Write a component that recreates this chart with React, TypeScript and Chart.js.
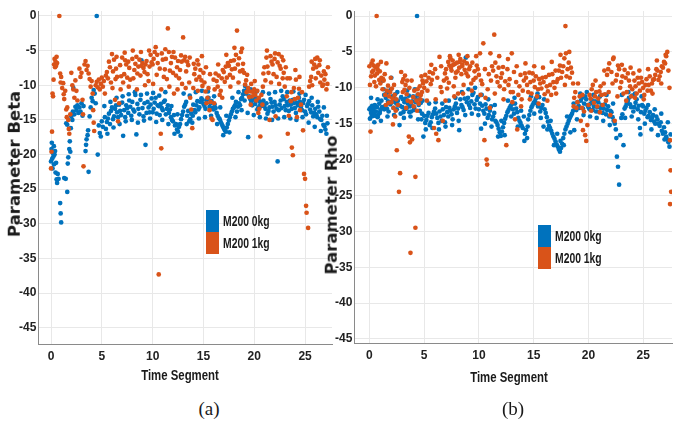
import React, { useEffect, useRef } from "react";
import { Chart, registerables } from "chart.js";

Chart.register(...registerables);

const X_TICKS = [0, 5, 10, 15, 20, 25];
const Y_TICKS = [0, -5, -10, -15, -20, -25, -30, -35, -40, -45];
const SERIES_LABELS = ["M200 0kg", "M200 1kg"];
const PANEL_CAPTIONS = ["(a)", "(b)"];
const Y_TITLES = ["Parameter Beta", "Parameter Rho"];
const X_TITLE = "Time Segment";
const BLUE = "#0072BD";
const ORANGE = "#D95319";

// Panel (a): Parameter Beta, M200 0kg
const betaBlue: number[][] = [
  [0.0,-21.0],[0.05,-19.2],[0.08,-18.3],[0.12,-20.6],[0.15,-22.0],[0.2,-19.8],[0.24,-20.3],[0.28,-18.8],[0.3,-21.4],[0.35,-20.0],
  [0.4,-19.5],[0.45,-22.6],[0.5,-21.2],[0.55,-23.6],[0.6,-24.1],[0.66,-22.8],[0.75,-23.5],[0.9,-27.0],[0.95,-28.5],[1.0,-29.8],
  [1.3,-23.4],[1.45,-23.5],[1.6,-25.4],[1.65,-21.3],[1.7,-20.4],[1.8,-19.2],[1.85,-18.1],[1.9,-19.6],[1.5,-15.5],[1.6,-15.7],
  [1.95,-16.2],[2.0,-14.5],[2.1,-15.0],[2.15,-13.8],[2.2,-10.4],[2.3,-14.2],[2.4,-13.1],[2.5,-13.6],[2.6,-12.9],[2.7,-14.0],
  [2.8,-13.2],[2.9,-13.8],[3.0,-12.6],[3.1,-14.4],[3.2,-13.0],[3.4,-19.5],[3.45,-18.6],[3.5,-17.8],[3.6,-17.2],[3.65,-16.5],
  [3.7,-22.5],[3.8,-14.5],[3.9,-13.2],[4.0,-11.8],[4.1,-12.3],[4.2,-10.7],[4.3,-11.2],[4.4,-12.6],[4.5,0.0],[4.6,-20.0],
  [4.7,-15.8],[4.8,-16.9],[4.9,-17.4],[5.0,-15.2],[5.1,-16.0],[5.3,-14.6],[5.5,-15.3],[5.7,-14.1],[5.9,-13.7],[6.1,-14.9],
  [6.3,-13.4],[6.5,-13.9],[6.7,-12.8],[6.9,-14.3],[7.1,-17.3],[7.2,-13.6],[7.4,-12.9],[7.6,-14.0],[7.8,-13.1],[8.0,-12.4],
  [8.2,-13.8],[8.4,-17.1],[8.5,-12.7],[8.7,-14.2],[8.9,-6.4],[9.0,-13.3],[9.2,-12.6],[9.3,-18.6],[9.4,-14.0],[9.6,-13.2],
  [9.8,-12.8],[10.0,-13.9],[10.2,-12.5],[10.4,-14.1],[10.6,-13.0],[10.8,-12.7],[11.0,-13.6],[11.2,-12.2],[11.4,-13.4],[11.6,-14.0],
  [11.8,-14.6],[12.0,-15.2],[12.2,-15.8],[12.4,-16.4],[12.5,-16.7],[12.7,-15.6],[12.9,-14.3],[13.1,-13.1],[13.3,-12.4],[13.5,-13.7],
  [13.7,-14.9],[13.9,-15.4],[14.1,-13.6],[14.3,-12.9],[14.5,-13.5],[14.7,-12.4],[14.9,-12.1],[15.1,-13.0],[15.3,-12.2],[15.5,-11.8],
  [15.7,-12.6],[15.9,-13.3],[16.1,-12.8],[16.3,-14.0],[16.5,-14.7],[16.7,-15.3],[16.9,-15.9],[17.1,-16.5],[17.3,-16.1],[17.5,-15.1],
  [17.7,-14.2],[17.9,-13.4],[18.1,-12.9],[18.3,-13.8],[18.5,-12.6],[18.7,-12.0],[18.9,-11.3],[19.1,-10.1],[19.3,-10.6],[19.4,-17.5],
  [19.5,-11.6],[19.7,-12.4],[19.9,-11.8],[20.1,-12.7],[20.3,-13.5],[20.5,-12.3],[20.7,-13.0],[20.9,-12.2],[21.1,-13.4],[21.3,-14.1],
  [21.5,-13.2],[21.7,-12.5],[21.9,-13.8],[22.1,-12.9],[22.3,-21.0],[22.4,-13.6],[22.6,-12.2],[22.8,-11.6],[23.0,-13.0],[23.2,-12.4],
  [23.4,-13.7],[23.6,-12.8],[23.8,-12.1],[24.0,-13.3],[24.2,-12.5],[24.4,-11.8],[24.6,-13.1],[24.8,-12.6],[25.0,-13.8],[25.2,-13.0],
  [25.4,-12.3],[25.6,-13.9],[25.8,-14.5],[26.0,-13.4],[26.2,-14.6],[26.4,-13.8],[26.6,-15.0],[26.8,-15.7],[27.0,-16.4],[27.1,-17.0],
  [5.4,-16.3],[5.6,-14.8],[5.8,-15.6],[6.0,-13.2],[6.2,-14.5],[6.4,-12.9],[6.6,-14.6],[6.8,-13.7],[7.0,-12.5],[7.3,-14.6],
  [7.5,-13.3],[7.7,-12.2],[7.9,-14.4],[8.1,-13.5],[8.3,-11.4],[8.6,-13.4],[8.8,-12.1],[9.1,-14.5],[9.5,-12.4],[9.7,-13.9],
  [9.9,-11.9],[10.1,-13.4],[10.3,-11.8],[10.5,-12.9],[10.7,-14.3],[10.9,-13.3],[11.1,-12.4],[11.3,-14.2],[11.5,-12.9],[11.7,-13.5],
  [11.9,-15.0],[12.1,-14.3],[12.3,-15.6],[12.6,-16.0],[12.8,-14.9],[13.0,-13.8],[13.2,-12.8],[13.4,-14.4],[13.6,-15.2],[13.8,-14.1],
  [14.0,-12.8],[14.2,-13.9],[14.4,-12.3],[14.6,-13.2],[14.8,-11.9],[15.0,-12.7],[15.2,-13.4],[15.4,-12.0],[15.6,-13.1],[15.8,-12.3],
  [16.0,-13.5],[16.2,-13.3],[16.4,-14.4],[16.6,-14.9],[16.8,-15.6],[17.0,-16.2],[17.2,-16.7],[17.4,-15.6],[17.6,-14.6],[17.8,-13.8],
  [18.0,-13.2],[18.2,-12.4],[18.4,-13.1],[18.6,-12.9],[18.8,-11.8],[19.0,-10.8],[19.2,-11.2],[19.6,-12.0],[19.8,-12.9],[20.0,-12.1],
  [20.2,-11.9],[20.4,-13.2],[20.6,-12.8],[20.8,-12.5],[21.0,-13.0],[21.2,-12.6],[21.4,-13.7],[21.6,-12.0],[21.8,-13.1],[22.0,-12.4],
  [22.2,-13.4],[22.5,-12.8],[22.7,-13.3],[22.9,-12.0],[23.1,-13.6],[23.3,-12.9],[23.5,-12.2],[23.7,-13.4],[23.9,-12.6],[24.1,-14.0],
  [24.3,-12.9],[24.5,-12.4],[24.7,-13.6],[24.9,-12.1],[25.1,-14.2],[25.3,-12.7],[25.5,-13.5],[25.7,-12.9],[25.9,-14.0],[26.1,-14.2],
  [26.3,-13.1],[26.5,-14.9],[26.7,-14.4],[26.9,-15.9],[27.2,-15.5],
  [5.25,-13.0],[5.55,-17.0],[5.85,-12.4],[6.15,-16.1],[6.45,-11.8],[6.75,-15.6],[7.05,-11.6],[7.35,-15.2],[7.65,-11.3],[7.95,-15.0],
  [8.25,-11.0],[8.55,-15.4],[8.85,-11.4],[9.15,-15.1],[9.45,-11.2],[9.75,-14.8],[10.05,-11.1],[10.35,-15.3],[10.65,-11.5],[10.95,-15.0],
  [11.25,-11.0],[11.55,-15.6],[11.85,-13.0],[12.15,-17.0],[12.45,-14.2],[12.75,-17.3],[13.05,-11.2],[13.35,-15.6],[13.65,-11.5],[13.95,-14.4],
  [14.25,-11.0],[14.55,-14.8],[14.85,-10.8],[15.15,-14.6],[15.45,-10.9],[15.75,-14.4],[16.05,-11.6],[16.35,-15.6],[16.65,-13.2],[16.95,-17.2],
  [17.25,-14.4],[17.55,-16.8],[17.85,-11.8],[18.15,-14.6],[18.45,-11.0],[18.75,-13.6],[19.05,-12.2],[19.35,-14.0],[19.65,-10.6],[19.95,-14.3],
  [20.25,-10.9],[20.55,-14.6],[20.85,-11.0],[21.15,-14.8],[21.45,-11.2],[21.75,-15.0],[22.05,-11.0],[22.35,-14.8],[22.65,-10.8],[22.95,-14.6],
  [23.25,-11.0],[23.55,-14.8],[23.85,-10.9],[24.15,-15.0],[24.45,-11.2],[24.75,-14.6],[25.05,-11.4],[25.35,-15.4],[25.65,-11.8],[25.95,-16.0],
  [26.25,-12.4],[26.55,-16.6],[26.85,-13.2],[27.15,-14.4]
];

// Panel (a): Parameter Beta, M200 1kg
const betaOrange: number[][] = [
  [0.0,-22.0],[0.05,-19.6],[0.1,-16.7],[0.15,-11.2],[0.2,-11.6],[0.25,-9.2],[0.3,-7.0],[0.35,-6.2],[0.4,-7.4],[0.45,-6.6],
  [0.5,-7.2],[0.55,-5.9],[0.6,-6.8],[0.82,0.0],[0.9,-8.3],[0.95,-9.6],[1.0,-8.8],[1.1,-10.4],[1.2,-9.7],[1.25,-11.3],
  [1.3,-12.0],[1.4,-10.8],[1.5,-13.5],[1.55,-14.6],[1.6,-13.2],[1.7,-15.0],[1.75,-16.3],[1.8,-17.0],[1.9,-14.2],[2.0,-8.2],
  [2.1,-10.0],[2.2,-10.6],[2.3,-11.8],[2.4,-9.3],[2.5,-10.8],[2.6,-12.2],[2.8,-7.6],[2.9,-8.8],[3.0,-8.2],[3.1,-12.1],
  [3.15,-14.2],[3.2,-21.7],[3.3,-7.0],[3.4,-6.5],[3.5,-7.8],[3.6,-7.2],[3.7,-8.3],[3.8,-9.1],[3.9,-10.2],[4.0,-9.4],
  [4.1,-11.2],[4.15,-13.6],[4.2,-15.4],[4.25,-16.6],[4.4,-10.0],[4.5,-9.5],[4.6,-10.3],[4.7,-9.2],[4.8,-10.6],[4.9,-9.8],
  [5.0,-8.9],[5.2,-9.4],[5.4,-8.6],[5.6,-9.0],[5.8,-7.4],[6.0,-5.5],[6.1,-8.0],[6.2,-6.3],[6.3,-12.1],[6.4,-7.6],
  [6.5,-8.8],[6.6,-15.2],[6.7,-12.6],[6.8,-7.1],[7.0,-6.0],[7.2,-8.4],[7.4,-7.0],[7.6,-6.6],[7.8,-9.2],[8.0,-6.2],
  [8.2,-7.8],[8.4,-5.9],[8.6,-7.3],[8.8,-8.6],[9.0,-6.8],[9.1,-7.5],[9.2,-8.1],[9.4,-6.5],[9.6,-9.4],[9.8,-5.6],
  [10.0,-7.0],[10.1,-6.2],[10.3,-4.5],[10.4,-8.5],[10.6,-37.3],[10.8,-17.0],[10.85,-19.1],[11.0,-6.3],[11.2,-7.7],[11.4,-9.1],
  [11.5,-1.8],[11.6,-5.2],[11.8,-6.8],[12.0,-8.2],[12.1,-11.2],[12.2,-6.0],[12.4,-7.4],[12.6,-9.0],[12.8,-5.7],[13.0,-3.1],
  [13.1,-6.4],[13.3,-8.0],[13.5,-7.1],[13.6,-9.6],[13.7,-11.8],[13.8,-13.5],[13.9,-16.2],[14.0,-10.4],[14.2,-7.6],[14.4,-6.4],
  [14.6,-8.8],[14.8,-9.3],[15.0,-8.2],[15.2,-10.9],[15.4,-11.8],[15.6,-13.6],[15.8,-14.8],[16.0,-9.2],[16.2,-8.3],[16.4,-10.2],
  [16.6,-11.4],[16.8,-9.0],[17.0,-8.1],[17.2,-7.3],[17.4,-6.8],[17.6,-8.5],[17.8,-7.7],[18.0,-6.4],[18.2,-5.6],[18.3,-2.1],
  [18.5,-6.1],[18.7,-5.2],[18.8,-4.7],[19.0,-8.2],[19.2,-9.3],[19.4,-10.4],[19.6,-10.9],[19.8,-11.6],[20.0,-10.6],[20.2,-12.2],
  [20.4,-14.0],[20.6,-17.4],[20.8,-12.8],[21.0,-7.4],[21.2,-6.0],[21.4,-8.2],[21.5,-15.0],[21.6,-5.8],[21.8,-7.0],[22.0,-6.2],
  [22.1,-14.5],[22.2,-8.8],[22.4,-5.5],[22.6,-7.6],[22.8,-9.0],[23.0,-10.2],[23.2,-11.6],[23.3,-17.0],[23.4,-14.4],[23.6,-12.3],
  [23.7,-19.0],[23.8,-20.1],[24.0,-12.0],[24.2,-14.6],[24.4,-10.5],[24.6,-12.8],[24.8,-16.5],[24.9,-22.8],[25.0,-23.5],[25.1,-27.4],
  [25.15,-28.4],[25.3,-30.6],[25.4,-10.2],[25.6,-8.8],[25.8,-7.6],[26.0,-6.2],[26.1,-7.4],[26.3,-8.2],[26.5,-9.6],[26.7,-10.1],
  [26.9,-9.2],[27.0,-8.4],[27.2,-9.8],
  [5.1,-10.2],[5.5,-8.1],[5.9,-9.6],[6.35,-9.1],[6.9,-8.7],[7.1,-9.6],[7.3,-6.4],[7.5,-8.9],[7.7,-7.5],[8.1,-9.0],
  [8.3,-6.9],[8.5,-8.3],[8.7,-6.3],[8.9,-7.2],[9.3,-7.0],[9.5,-8.4],[9.7,-7.3],[9.9,-6.7],[10.2,-5.2],[10.5,-6.8],
  [10.7,-7.6],[10.9,-5.4],[11.1,-8.8],[11.3,-6.2],[11.7,-7.9],[11.9,-5.9],[12.3,-8.6],[12.5,-6.5],[12.7,-7.8],[12.9,-9.8],
  [13.2,-5.9],[13.4,-6.6],[14.1,-8.4],[14.3,-9.2],[14.5,-7.0],[14.7,-7.8],[14.9,-10.1],[15.1,-9.6],[15.3,-12.6],[15.5,-10.4],
  [15.7,-12.4],[15.9,-15.0],[16.1,-10.6],[16.3,-9.4],[16.5,-8.6],[16.7,-10.8],[16.9,-7.8],[17.1,-9.5],[17.3,-8.9],[17.5,-7.2],
  [17.7,-6.5],[17.9,-8.9],[18.1,-7.6],[18.4,-7.0],[18.6,-8.0],[18.9,-6.9],[19.1,-9.9],[19.3,-8.5],[19.5,-11.7],[19.7,-9.8],
  [19.9,-11.0],[20.1,-11.4],[20.3,-10.8],[20.5,-13.4],[20.7,-11.4],[20.9,-8.3],[21.1,-9.3],[21.3,-7.3],[21.7,-6.6],[21.9,-8.4],
  [22.3,-6.7],[22.5,-7.2],[22.7,-5.9],[22.9,-8.2],[23.1,-7.4],[23.5,-9.0],[23.9,-10.4],[24.1,-9.2],[24.3,-11.8],[24.5,-13.6],
  [24.7,-11.0],[25.5,-9.4],[25.7,-10.0],[25.9,-7.0],[26.2,-6.0],[26.4,-7.1],[26.6,-8.6],[26.8,-9.9],[27.1,-10.6],
  [5.3,-11.2],[5.7,-6.6],[6.05,-10.4],[6.45,-5.9],[6.85,-10.6],[7.25,-5.3],[7.65,-10.2],[8.05,-5.0],[8.45,-10.6],[8.85,-5.2],
  [9.25,-10.0],[9.65,-5.0],[10.05,-9.8],[10.45,-5.6],[10.85,-10.6],[11.25,-4.8],[11.65,-10.2],[12.05,-5.2],[12.45,-10.6],[12.85,-6.6],
  [13.25,-10.4],[13.65,-6.0],[14.05,-6.9],[14.45,-10.8],[14.85,-5.8],[15.25,-7.4],[15.65,-8.4],[16.05,-12.6],[16.45,-7.0],[16.85,-11.8],
  [17.25,-5.6],[17.65,-10.2],[18.05,-4.6],[18.45,-9.6],[18.85,-7.8],[19.25,-11.0],[19.65,-12.8],[20.05,-9.4],[20.45,-11.8],[20.85,-10.2],
  [21.25,-5.0],[21.65,-9.6],[22.05,-5.4],[22.45,-9.8],[22.85,-6.4],[23.25,-9.0],[23.65,-11.0],[24.05,-7.8],[24.45,-8.8],[25.65,-6.6],
  [26.05,-9.0],[26.45,-6.4],[26.85,-8.0],[27.25,-7.4]
];

// Panel (b): Parameter Rho, M200 0kg
const rhoBlue: number[][] = [
  [0.0,-13.0],[0.05,-14.3],[0.1,-12.8],[0.15,-13.5],[0.2,-14.0],[0.25,-12.5],[0.3,-13.2],[0.35,-13.9],[0.4,-12.9],[0.45,-13.6],
  [0.5,-12.4],[0.6,-13.3],[0.7,-12.7],[0.8,-13.8],[0.9,-12.2],[1.0,-13.1],[1.1,-11.8],[1.2,-9.0],[1.3,-10.2],[1.4,-12.6],
  [1.5,-11.4],[1.6,-12.9],[1.7,-11.9],[1.8,-10.6],[1.9,-12.3],[2.0,-8.6],[2.1,-11.2],[2.2,-12.8],[2.3,-11.6],[2.4,-12.1],
  [2.5,-13.0],[2.6,-11.8],[2.75,-15.2],[2.8,-12.5],[2.9,-11.3],[3.0,-12.7],[3.1,-13.4],[3.2,-12.0],[3.3,-11.5],[3.4,-12.9],
  [3.5,-12.2],[3.6,-11.1],[3.7,-12.6],[3.8,-13.3],[3.9,-11.9],[4.0,-11.2],[4.1,-12.8],[4.2,-11.4],[4.35,0.0],[4.4,-11.0],
  [4.5,-12.4],[4.6,-13.2],[4.7,-12.1],[4.8,-13.6],[4.93,-16.8],[5.0,-13.9],[5.2,-14.5],[5.4,-13.5],[5.6,-14.8],[5.8,-13.7],
  [6.0,-12.9],[6.2,-14.2],[6.4,-13.3],[6.6,-14.6],[6.8,-13.8],[7.0,-12.7],[7.2,-14.0],[7.4,-13.2],[7.6,-14.4],[7.8,-12.6],
  [8.0,-13.5],[8.2,-15.9],[8.4,-12.4],[8.6,-13.1],[8.8,-5.8],[8.9,-12.0],[9.0,-11.4],[9.2,-12.8],[9.4,-11.0],[9.6,-12.3],
  [9.8,-11.7],[10.0,-13.0],[10.2,-15.7],[10.3,-12.5],[10.5,-13.6],[10.7,-12.9],[10.9,-13.8],[11.1,-12.6],[11.3,-14.0],[11.5,-14.6],
  [11.7,-15.2],[11.9,-16.2],[12.0,-16.7],[12.2,-15.5],[12.4,-14.3],[12.6,-13.4],[12.8,-12.8],[13.0,-12.3],[13.2,-13.6],[13.4,-12.9],
  [13.6,-14.2],[13.8,-14.9],[14.0,-15.6],[14.2,-16.4],[14.4,-17.0],[14.6,-13.8],[14.8,-12.7],[15.0,-12.1],[15.2,-11.5],[15.4,-12.6],
  [15.6,-13.3],[15.8,-12.4],[15.9,-15.4],[16.0,-13.0],[16.2,-14.1],[16.4,-15.3],[16.6,-16.0],[16.8,-16.8],[17.0,-17.5],[17.2,-18.2],
  [17.4,-18.9],[17.5,-18.4],[17.7,-17.0],[17.9,-15.8],[18.1,-15.0],[18.3,-14.2],[18.5,-13.6],[18.7,-15.9],[18.9,-13.1],[19.1,-12.5],
  [19.3,-11.8],[19.5,-12.9],[19.7,-11.2],[19.9,-12.4],[20.1,-13.0],[20.3,-11.7],[20.5,-12.6],[20.7,-13.3],[20.9,-12.0],[21.1,-12.8],
  [21.3,-13.5],[21.5,-12.3],[21.7,-13.1],[21.9,-14.0],[22.1,-13.4],[22.3,-14.6],[22.5,-15.8],[22.6,-19.6],[22.7,-21.0],[22.8,-23.5],
  [22.9,-16.6],[23.0,-14.2],[23.2,-18.0],[23.3,-12.9],[23.5,-12.2],[23.7,-11.4],[23.9,-12.7],[24.1,-13.3],[24.3,-12.1],[24.5,-13.0],
  [24.7,-15.6],[24.75,-16.5],[24.9,-12.4],[25.1,-13.6],[25.3,-12.8],[25.5,-13.9],[25.7,-14.5],[25.9,-13.8],[26.1,-15.0],[26.3,-14.4],
  [26.5,-15.3],[26.7,-16.0],[26.9,-15.5],[27.1,-16.8],[27.3,-17.6],[27.4,-18.2],[27.5,-16.5],
  [0.55,-13.9],[0.75,-14.1],[0.95,-13.5],[1.15,-12.7],[1.35,-13.0],[1.55,-10.8],[1.75,-13.3],[2.05,-12.0],[2.35,-10.9],[2.55,-12.3],
  [2.85,-13.6],[3.05,-11.6],[3.25,-13.0],[3.45,-11.8],[3.65,-13.4],[3.85,-12.4],[4.05,-13.1],[4.25,-12.0],[4.55,-11.6],[4.75,-14.4],
  [5.1,-14.9],[5.3,-13.9],[5.5,-15.2],[5.7,-14.1],[5.9,-13.3],[6.1,-13.6],[6.3,-14.9],[6.5,-14.0],[6.7,-13.0],[6.9,-14.8],
  [7.1,-13.4],[7.3,-12.8],[7.5,-13.7],[7.7,-13.0],[7.9,-12.2],[8.1,-12.9],[8.3,-11.6],[8.5,-12.7],[8.7,-11.5],[9.1,-12.4],
  [9.3,-11.9],[9.5,-10.7],[9.7,-12.9],[9.9,-11.3],[10.1,-12.2],[10.4,-13.2],[10.6,-12.3],[10.8,-14.2],[11.0,-13.2],[11.2,-14.4],
  [11.4,-13.5],[11.6,-14.8],[11.8,-15.7],[12.1,-16.1],[12.3,-14.9],[12.5,-13.9],[12.7,-13.1],[12.9,-12.5],[13.1,-13.0],[13.3,-12.2],
  [13.5,-13.4],[13.7,-14.6],[13.9,-15.3],[14.1,-14.0],[14.3,-15.9],[14.5,-14.4],[14.7,-13.2],[14.9,-12.4],[15.1,-11.9],[15.3,-12.2],
  [15.5,-11.3],[15.7,-12.8],[16.1,-13.5],[16.3,-14.7],[16.5,-15.6],[16.7,-16.4],[16.9,-17.1],[17.1,-17.9],[17.3,-18.6],[17.6,-17.8],
  [17.8,-16.4],[18.0,-15.4],[18.2,-14.6],[18.4,-13.9],[18.6,-13.2],[18.8,-12.9],[19.0,-12.0],[19.2,-12.8],[19.4,-11.4],[19.6,-12.2],
  [19.8,-11.6],[20.0,-12.7],[20.2,-12.2],[20.4,-13.1],[20.6,-11.9],[20.8,-12.7],[21.0,-13.4],[21.2,-12.4],[21.4,-12.9],[21.6,-13.7],
  [21.8,-12.6],[22.0,-13.2],[22.2,-14.1],[22.4,-15.0],[23.1,-13.7],[23.4,-12.6],[23.6,-11.8],[23.8,-12.3],[24.0,-11.1],[24.2,-12.7],
  [24.4,-11.6],[24.6,-12.5],[24.8,-13.4],[25.0,-12.6],[25.2,-13.2],[25.4,-14.1],[25.6,-13.4],[25.8,-14.2],[26.0,-14.7],[26.2,-14.0],
  [26.4,-15.0],[26.6,-14.8],[26.8,-16.4],[27.0,-16.2],[27.2,-17.2],
  [0.15,-11.4],[0.45,-14.8],[0.75,-11.6],[1.05,-14.6],[1.35,-11.0],[1.65,-14.0],[1.95,-10.2],[2.25,-13.8],[2.55,-10.6],[3.15,-14.2],
  [3.45,-10.4],[3.75,-14.0],[4.15,-10.2],[4.45,-14.4],[4.85,-11.8],[5.15,-15.8],[5.45,-12.2],[5.75,-15.6],[6.05,-12.0],[6.35,-15.8],
  [6.65,-12.2],[6.95,-15.4],[7.25,-11.8],[7.55,-15.2],[7.85,-11.4],[8.15,-14.6],[8.45,-10.6],[8.75,-13.8],[9.05,-10.2],[9.35,-13.6],
  [9.65,-10.0],[9.95,-13.8],[10.25,-11.0],[10.55,-15.0],[10.85,-11.6],[11.15,-15.4],[11.45,-12.4],[11.75,-16.8],[12.05,-14.6],[12.35,-16.6],
  [12.65,-11.8],[12.95,-14.0],[13.25,-11.4],[13.55,-15.4],[13.85,-13.2],[14.15,-17.4],[14.45,-15.4],[14.75,-11.2],[15.05,-13.6],[15.35,-10.8],
  [15.65,-14.2],[15.95,-11.6],[16.25,-15.8],[16.55,-14.6],[16.85,-18.0],[17.15,-16.4],[17.45,-17.4],[17.75,-18.0],[18.05,-14.0],[18.35,-16.2],
  [18.65,-12.2],[18.95,-14.4],[19.25,-10.8],[19.55,-13.8],[19.85,-10.6],[20.15,-14.0],[20.45,-11.0],[20.75,-14.2],[21.05,-11.2],[21.35,-14.6],
  [21.65,-11.0],[21.95,-15.2],[22.25,-12.2],[22.55,-17.0],[23.05,-11.0],[23.35,-14.2],[23.65,-10.6],[23.95,-14.0],[24.25,-10.8],[24.55,-14.4],
  [24.85,-11.2],[25.15,-15.0],[25.45,-12.4],[25.75,-15.8],[26.05,-13.0],[26.35,-16.6],[26.65,-13.6],[26.95,-17.2],[27.25,-14.8]
];

// Panel (b): Parameter Rho, M200 1kg
const rhoOrange: number[][] = [
  [0.0,-7.0],[0.05,-9.6],[0.1,-16.1],[0.15,-8.4],[0.2,-6.6],[0.3,-6.2],[0.35,-7.6],[0.4,-6.9],[0.5,-8.3],[0.55,-7.1],
  [0.66,0.0],[0.7,-8.0],[0.8,-6.8],[0.9,-8.9],[1.0,-9.4],[1.1,-8.6],[1.2,-10.2],[1.3,-9.0],[1.4,-8.1],[1.55,-6.6],
  [1.6,-10.4],[1.7,-9.7],[1.8,-11.2],[1.9,-10.6],[2.0,-12.0],[2.1,-11.5],[2.15,-15.1],[2.2,-12.8],[2.3,-11.0],[2.4,-13.2],
  [2.5,-18.7],[2.6,-12.4],[2.7,-24.5],[2.8,-21.9],[2.9,-7.8],[3.0,-9.2],[3.1,-8.8],[3.2,-10.3],[3.3,-9.6],[3.4,-10.9],
  [3.5,-11.8],[3.6,-16.8],[3.7,-17.6],[3.75,-33.0],[3.8,-12.0],[3.9,-17.2],[4.0,-11.3],[4.1,-10.4],[4.2,-22.4],[4.2,-29.5],
  [4.3,-11.8],[4.4,-10.2],[4.5,-12.2],[4.6,-9.8],[4.7,-11.0],[4.8,-10.6],[4.9,-9.4],[5.0,-10.0],[5.2,-9.1],[5.4,-8.6],
  [5.6,-9.5],[5.8,-8.0],[5.9,-15.6],[6.0,-7.4],[6.1,-16.4],[6.2,-8.6],[6.3,-17.3],[6.4,-5.7],[6.5,-9.9],[6.6,-10.6],
  [6.7,-14.6],[6.8,-9.0],[7.0,-7.4],[7.1,-10.1],[7.2,-6.4],[7.3,-6.9],[7.4,-5.9],[7.5,-7.6],[7.6,-6.2],[7.7,-9.8],
  [7.8,-6.7],[7.9,-7.9],[8.0,-6.5],[8.1,-10.8],[8.2,-7.2],[8.3,-6.0],[8.4,-8.1],[8.5,-6.8],[8.6,-9.6],[8.7,-7.5],
  [8.9,-6.6],[9.0,-8.4],[9.2,-7.0],[9.4,-6.5],[9.5,-8.9],[9.6,-7.7],[9.8,-6.9],[10.0,-8.2],[10.1,-5.2],[10.3,-9.5],
  [10.4,-3.8],[10.5,-17.3],[10.6,-11.4],[10.7,-20.0],[10.75,-20.7],[10.8,-10.2],[11.0,-12.8],[11.1,-9.0],[11.3,-7.6],[11.4,-2.6],
  [11.5,-6.5],[11.6,-8.4],[11.8,-7.2],[11.9,-9.8],[12.1,-8.0],[12.3,-10.2],[12.4,-9.1],[12.5,-18.0],[12.6,-7.4],[12.8,-8.8],
  [13.0,-5.2],[13.1,-10.6],[13.2,-7.8],[13.3,-14.4],[13.4,-9.2],[13.5,-15.8],[13.6,-11.0],[13.8,-8.2],[14.0,-10.4],[14.2,-8.0],
  [14.4,-9.6],[14.6,-7.9],[14.8,-10.8],[15.0,-9.0],[15.2,-8.4],[15.4,-10.2],[15.6,-9.4],[15.8,-8.6],[16.0,-10.9],[16.2,-9.8],
  [16.4,-8.2],[16.6,-11.0],[16.8,-9.2],[17.0,-7.6],[17.2,-8.8],[17.4,-6.9],[17.6,-7.8],[17.8,-5.9],[17.9,-1.4],[17.95,-5.2],
  [18.0,-8.4],[18.2,-6.5],[18.4,-7.2],[18.6,-9.4],[18.8,-10.6],[19.0,-12.0],[19.2,-11.2],[19.3,-14.6],[19.4,-12.8],[19.5,-15.9],
  [19.6,-13.3],[19.7,-16.6],[19.8,-17.4],[19.9,-15.2],[20.1,-11.0],[20.3,-10.2],[20.5,-12.1],[20.7,-10.6],[20.9,-11.5],[21.1,-9.8],
  [21.3,-12.4],[21.5,-10.9],[21.7,-8.2],[21.9,-6.6],[22.0,-13.8],[22.1,-7.8],[22.3,-5.8],[22.4,-14.6],[22.5,-9.0],[22.7,-6.9],
  [22.9,-10.0],[23.1,-8.4],[23.3,-7.5],[23.5,-10.6],[23.7,-9.0],[23.9,-11.2],[24.1,-8.0],[24.3,-9.8],[24.5,-8.6],[24.7,-10.4],
  [24.9,-9.2],[25.1,-11.0],[25.3,-8.8],[25.5,-9.6],[25.7,-10.4],[25.9,-8.9],[26.1,-8.2],[26.3,-7.6],[26.5,-8.4],[26.7,-7.0],
  [26.9,-6.4],[27.1,-5.6],[27.2,-5.0],[27.3,-7.6],[27.4,-10.0],[27.45,-17.3],[27.5,-21.5],[27.55,-24.5],[27.45,-26.2],
  [0.25,-7.8],[0.45,-9.2],[0.75,-7.4],[0.95,-7.7],[1.25,-8.8],[1.45,-11.0],[1.75,-12.1],[2.05,-10.1],[2.25,-9.6],[2.45,-11.6],
  [3.05,-10.6],[3.25,-8.3],[3.45,-9.0],[3.65,-10.0],[4.05,-12.6],[4.45,-10.9],[4.65,-11.6],[4.85,-9.0],[5.1,-8.2],[5.3,-10.4],
  [5.5,-7.8],[5.7,-8.9],[6.9,-8.0],[7.05,-8.7],[7.25,-9.3],[7.45,-7.2],[7.65,-6.8],[7.85,-8.6],[8.05,-7.7],[8.25,-6.4],
  [8.45,-7.0],[8.65,-6.3],[8.85,-8.0],[9.1,-7.4],[9.3,-9.4],[9.7,-8.6],[9.9,-7.4],[10.2,-9.0],[10.9,-8.1],[11.2,-7.0],
  [11.7,-9.2],[12.0,-8.6],[12.2,-7.1],[12.7,-9.6],[12.9,-10.6],[13.7,-9.8],[13.9,-11.6],[14.1,-9.0],[14.3,-8.6],[14.5,-10.6],
  [14.7,-9.2],[14.9,-8.0],[15.1,-9.9],[15.3,-11.2],[15.5,-8.8],[15.7,-10.1],[15.9,-9.2],[16.1,-8.5],[16.3,-10.5],[16.5,-9.6],
  [16.7,-8.1],[16.9,-10.0],[17.1,-9.2],[17.3,-7.6],[17.5,-8.6],[17.7,-7.0],[18.1,-7.4],[18.3,-8.6],[18.5,-7.9],[18.7,-11.4],
  [18.9,-12.8],[20.0,-12.4],[20.2,-11.5],[20.4,-9.6],[20.6,-11.2],[20.8,-12.6],[21.0,-10.5],[21.2,-11.0],[21.4,-9.4],[21.6,-11.8],
  [21.8,-7.4],[22.2,-9.4],[22.6,-8.2],[22.8,-7.4],[23.0,-9.2],[23.2,-10.8],[23.4,-8.6],[23.6,-8.0],[23.8,-9.8],[24.0,-10.2],
  [24.2,-9.0],[24.4,-10.8],[24.6,-9.4],[24.8,-8.6],[25.0,-10.0],[25.2,-9.6],[25.4,-10.4],[25.6,-8.4],[25.8,-9.4],[26.0,-8.8],
  [26.2,-7.4],[26.4,-8.9],[26.6,-7.8],[26.8,-7.2],[27.0,-6.6],
  [0.6,-9.8],[1.05,-6.4],[1.5,-12.4],[1.95,-8.6],[2.35,-14.0],[3.35,-12.8],[3.85,-9.0],[4.35,-13.2],[4.75,-8.4],[5.25,-11.8],
  [5.65,-6.8],[6.05,-11.6],[6.55,-7.0],[6.95,-11.8],[7.35,-5.6],[7.75,-11.2],[8.15,-5.4],[8.55,-10.8],[8.95,-5.6],[9.35,-10.4],
  [9.75,-5.6],[10.15,-11.0],[10.55,-7.4],[11.05,-5.2],[11.45,-10.8],[11.85,-5.6],[12.25,-11.6],[12.65,-6.0],[13.05,-12.0],[13.45,-7.0],
  [13.85,-12.6],[14.25,-6.6],[14.65,-11.6],[15.05,-7.0],[15.45,-12.2],[15.85,-7.2],[16.25,-11.8],[16.65,-6.4],[17.05,-10.8],[17.45,-5.4],
  [17.85,-9.6],[18.25,-5.0],[18.65,-12.6],[19.05,-9.4],[19.45,-11.0],[20.25,-13.2],[20.65,-9.0],[21.05,-13.4],[21.45,-7.6],[21.85,-10.6],
  [22.25,-6.0],[22.65,-11.2],[23.05,-6.8],[23.45,-11.8],[23.85,-7.2],[24.25,-11.4],[24.65,-7.6],[25.05,-11.6],[25.45,-7.4],[25.85,-10.8],
  [26.25,-6.2],[26.65,-9.4],[27.05,-5.4]
];

const TICK_FONT = { family: "'Liberation Sans', Arial, sans-serif", size: 12, weight: "bold" as const };

interface PanelProps {
  blue: number[][];
  orange: number[][];
  left: number;
  width: number;
  yAxisWidth: number;
  padRight: number;
  xMin: number;
  xMax: number;
  yMin: number;
  yMax: number;
  xAxisHeight: number;
}

const CANVAS_H = 390;

function ScatterPanel(p: PanelProps) {
  const ref = useRef<HTMLCanvasElement | null>(null);
  useEffect(() => {
    if (!ref.current) return;
    const toPts = (arr: number[][]) => arr.map(([x, y]) => ({ x, y }));
    const chart = new Chart(ref.current, {
      type: "scatter",
      data: {
        datasets: [
          {
            label: SERIES_LABELS[0],
            data: toPts(p.blue),
            backgroundColor: BLUE,
            borderWidth: 0,
            pointRadius: 2.35,
            order: 1,
          },
          {
            label: SERIES_LABELS[1],
            data: toPts(p.orange),
            backgroundColor: ORANGE,
            borderWidth: 0,
            pointRadius: 2.35,
            order: 0,
          },
        ],
      },
      options: {
        responsive: false,
        animation: false,
        events: [],
        layout: { padding: { top: 11, right: p.padRight, left: 0, bottom: 0 } },
        plugins: { legend: { display: false }, tooltip: { enabled: false } },
        scales: {
          x: {
            type: "linear",
            min: p.xMin,
            max: p.xMax,
            afterBuildTicks: (s: any) => {
              s.ticks = X_TICKS.map((v) => ({ value: v }));
            },
            afterFit: (s: any) => {
              s.height = p.xAxisHeight;
            },
            grid: { color: "#e8e8e8", lineWidth: 1, drawTicks: false },
            border: { color: "#8a8a8a", width: 1 },
            ticks: { color: "#222", font: TICK_FONT, padding: 5, maxRotation: 0 },
          },
          y: {
            type: "linear",
            min: p.yMin,
            max: p.yMax,
            afterBuildTicks: (s: any) => {
              s.ticks = Y_TICKS.map((v) => ({ value: v }));
            },
            afterFit: (s: any) => {
              s.width = p.yAxisWidth;
            },
            grid: { color: "#e8e8e8", lineWidth: 1, drawTicks: false },
            border: { color: "#8a8a8a", width: 1 },
            ticks: { color: "#222", font: TICK_FONT, padding: 2 },
          },
        },
      },
    });
    return () => chart.destroy();
  }, []);
  return (
    <canvas
      ref={ref}
      width={p.width}
      height={CANVAS_H}
      style={{ position: "absolute", left: p.left, top: 0, width: p.width, height: CANVAS_H }}
    />
  );
}

const sansBold = "'Liberation Sans', Arial, sans-serif";

function Text({ x, y, text, rotate, sx, font }: { x: number; y: number; text: string; rotate?: boolean; sx?: number; font: React.CSSProperties }) {
  return (
    <div
      style={{
        position: "absolute",
        left: x,
        top: y,
        transform: `translate(-50%, -50%)${rotate ? " rotate(-90deg)" : ""}${sx ? ` scaleX(${sx})` : ""}`,
        whiteSpace: "nowrap",
        lineHeight: 1,
        color: "#1a1a1a",
        ...font,
      }}
    >
      {text}
    </div>
  );
}

function Legend({ x, y }: { x: number; y: number }) {
  const row = (color: string, label: string, top: number) => (
    <div style={{ position: "absolute", left: 0, top, height: 22, width: 80 }}>
      <div style={{ position: "absolute", left: 0, top: 0, width: 12.5, height: 21.5, background: color }} />
      <div
        style={{
          position: "absolute",
          left: 17,
          top: 11,
          transform: "translateY(-50%) scaleX(0.74)",
          transformOrigin: "left center",
          fontFamily: sansBold,
          fontWeight: "bold",
          fontSize: 14,
          lineHeight: 1,
          color: "#1a1a1a",
          whiteSpace: "nowrap",
        }}
      >
        {label}
      </div>
    </div>
  );
  return (
    <div style={{ position: "absolute", left: x, top: y, width: 80, height: 44 }}>
      {row(BLUE, SERIES_LABELS[0], 0)}
      {row(ORANGE, SERIES_LABELS[1], 22)}
    </div>
  );
}

export default function App() {
  const yTitleFont: React.CSSProperties = { fontFamily: "'DejaVu Sans', sans-serif", fontWeight: "bold", fontSize: 16.5 };
  const xTitleFont: React.CSSProperties = { fontFamily: sansBold, fontWeight: "bold", fontSize: 15 };
  const capFont: React.CSSProperties = { fontFamily: "'Liberation Serif', 'DejaVu Serif', serif", fontSize: 19 };
  return (
    <div style={{ position: "absolute", left: 0, top: 0, width: 676, height: 423, background: "#fff", overflow: "hidden" }}>
      <ScatterPanel
        blue={betaBlue}
        orange={betaOrange}
        left={0}
        width={336}
        yAxisWidth={38.3}
        padRight={3}
        xMin={-1.25}
        xMax={27.65}
        yMin={-47.35}
        yMax={0.72}
        xAxisHeight={46}
      />
      <ScatterPanel
        blue={rhoBlue}
        orange={rhoOrange}
        left={322}
        width={354}
        yAxisWidth={32.3}
        padRight={0}
        xMin={-1.38}
        xMax={27.63}
        yMin={-45.6}
        yMax={0.7}
        xAxisHeight={46.7}
      />
      <Legend x={206} y={210} />
      <Legend x={538} y={225} />
      <Text x={15} y={164} text={Y_TITLES[0]} rotate font={yTitleFont} />
      <Text x={332} y={205} text={Y_TITLES[1]} rotate font={yTitleFont} />
      <Text x={180} y={374} text={X_TITLE} sx={0.76} font={xTitleFont} />
      <Text x={509} y={376} text={X_TITLE} sx={0.76} font={xTitleFont} />
      <Text x={209} y={408} text={PANEL_CAPTIONS[0]} font={capFont} />
      <Text x={513} y={408} text={PANEL_CAPTIONS[1]} font={capFont} />
    </div>
  );
}
